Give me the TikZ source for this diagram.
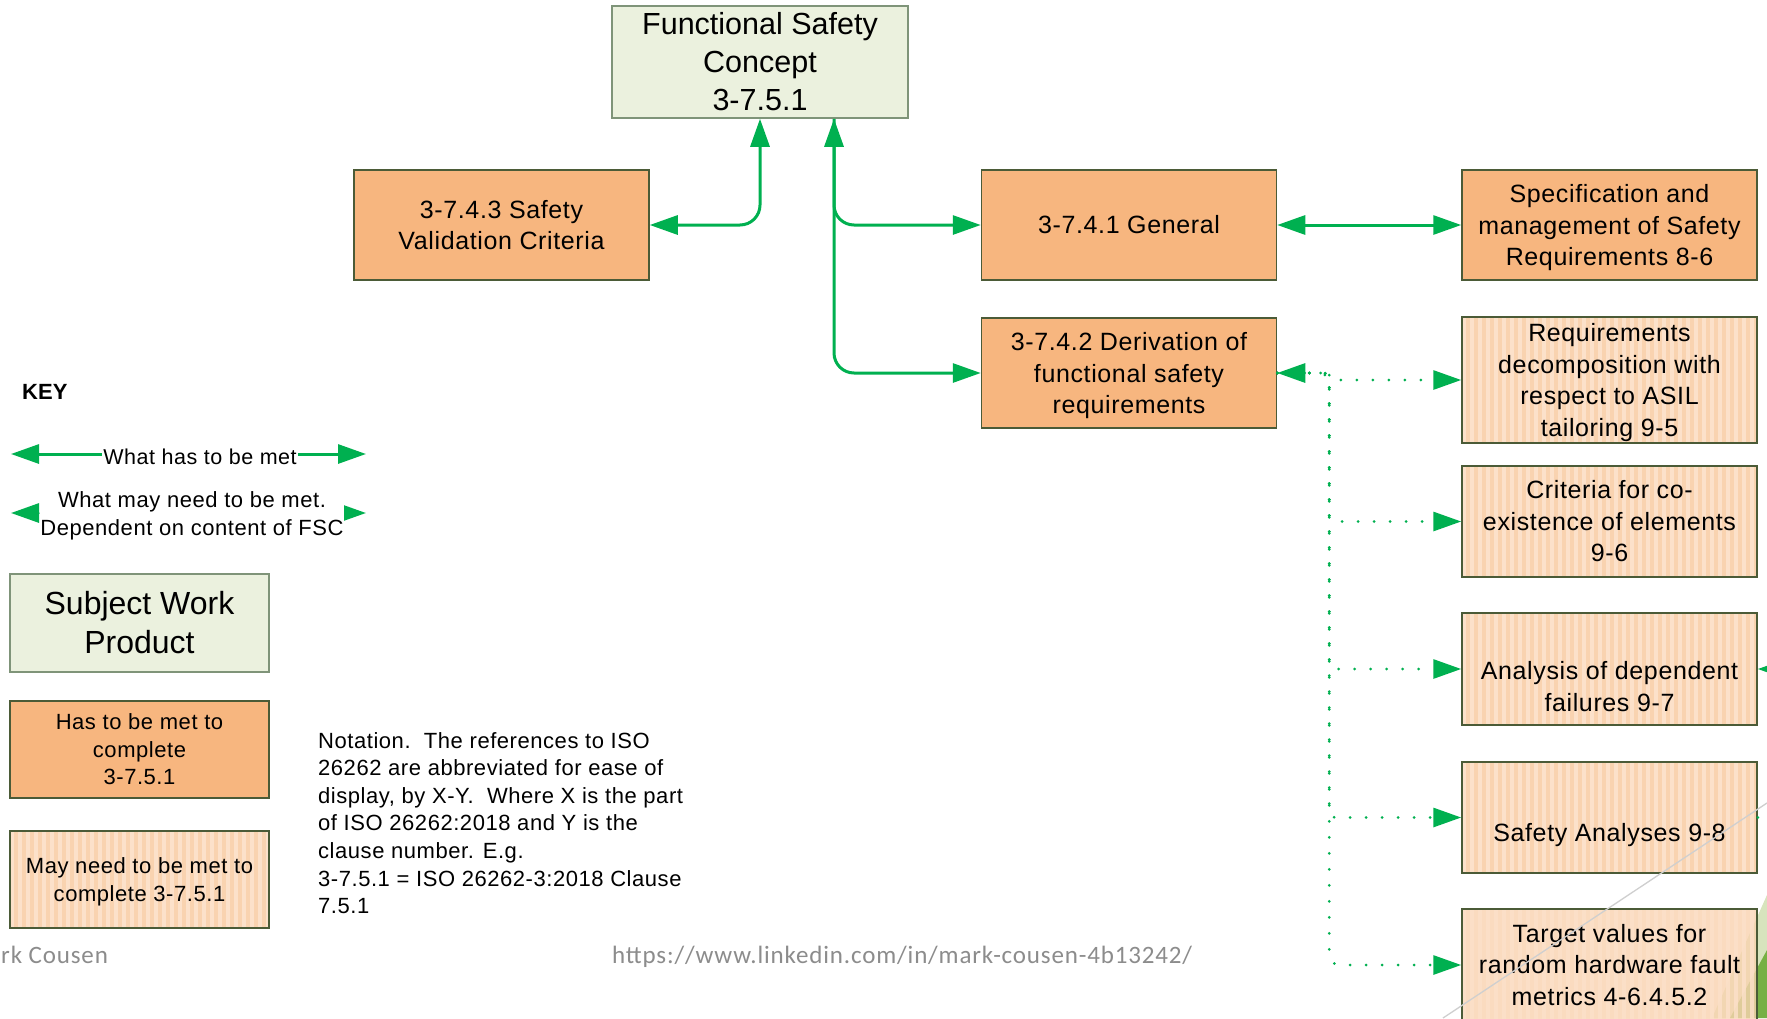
\documentclass[tikz,border=0pt]{standalone}
\usepackage{fontspec}
\setmainfont{Liberation Sans}
\newfontfamily\boxfont[LetterSpace=2.5]{Liberation Sans}
\newfontfamily\footfont[LetterSpace=3.4]{Carlito}
\usetikzlibrary{arrows.meta}

\definecolor{wpfill}{HTML}{EBF1DE}
\definecolor{wpedge}{HTML}{7F9479}
\definecolor{orangefill}{HTML}{F7B67F}
\definecolor{boxedge}{HTML}{4B5B37}
\definecolor{peachA}{HTML}{F9D3B0}
\definecolor{peachB}{HTML}{FCE1CA}
\definecolor{linkgreen}{HTML}{00B050}
\definecolor{footgray}{HTML}{8C8C8C}
\definecolor{facetlight}{HTML}{D7E4BD}
\definecolor{facetdark}{HTML}{77B045}
\definecolor{facetline}{HTML}{CFCFCF}

\tikzset{
  gtip/.tip={Triangle[length=28pt,width=19pt]},
  wpbox/.style={draw=wpedge, fill=wpfill, line width=1.5pt, inner sep=0pt, align=center},
  reqbox/.style={draw=boxedge, fill=orangefill, line width=1.5pt, inner sep=0pt,
    align=center, minimum width=295pt, minimum height=110pt,
    font=\boxfont\fontsize{25}{31.5}\selectfont},
  optbox/.style={reqbox, fill=peachA, path picture={
      \foreach \s in {0,8,...,296}
        \fill[peachB] ([xshift=\s pt]path picture bounding box.south west) rectangle ++(4pt,130pt);}},
  musts/.style={draw=linkgreen, line width=3pt},
  mays/.style={draw=linkgreen, line width=3pt, line cap=round, dash pattern=on 0pt off 16pt},
}

\begin{document}
\begin{tikzpicture}[x=1pt,y=-1pt]
\useasboundingbox (0,0) rectangle (1767,1018);
\clip (0,0) rectangle (1767,1018);
\fill[white] (0,0) rectangle (1767,1018);

% slide theme facets, bottom right
\fill[facetlight] (1767,895) -- (1767,1018) -- (1712,1018) -- cycle;
\fill[facetdark] (1767,950) -- (1767,1018) -- (1730,1018) -- cycle;

% work product
\node[wpbox, minimum width=296pt, minimum height=112pt,
      font=\fontsize{30.5}{38}\selectfont] (fsc) at (760,62)
  {Functional Safety\\Concept\\3-7.5.1};

% inputs that have to be met
\node[reqbox] (svc) at (501.5,225) {3-7.4.3 Safety\\Validation Criteria};
\node[reqbox] (gen) at (1129,225) {3-7.4.1 General};
\node[reqbox] (der) at (1129,373) {3-7.4.2 Derivation of\\functional safety\\\smash{requirements}};
\node[reqbox] (spec) at (1609.5,225) {Specification and\\management of Safety\\\smash{Requirements 8-6}};

% inputs that may need to be met
\node[optbox, minimum height=126pt] (dec) at (1609.5,380)
  {Requirements\\decomposition with\\respect to ASIL\\\smash{tailoring 9-5}};
\node[optbox, minimum height=111pt] (coex) at (1609.5,521.5)
  {Criteria for co-\\existence of elements\\9-6};
\node[optbox, minimum height=112pt] (dfa) at (1609.5,669)
  {\strut\\Analysis of dependent\\failures 9-7};
\node[optbox, minimum height=111pt] (sa) at (1609.5,817.5)
  {\strut\\Safety Analyses 9-8};
\node[optbox, minimum height=112pt, fill opacity=0.8, text opacity=1] (tv) at (1609.5,965)
  {Target values for\\random hardware fault\\metrics 4-6.4.5.2};

% solid links
\coordinate (fscR) at ([xshift=74pt]fsc.south);
\draw[musts, gtip-gtip, rounded corners=20pt] (svc.east) -| (fsc.south);
\draw[musts, gtip-gtip, rounded corners=20pt] (fscR) |- (gen.west);
\draw[musts, -gtip, rounded corners=20pt] (fscR) |- (der.west);
\draw[musts, gtip-gtip] (gen.east) -- (spec.west);

% dotted links
\draw[mays, gtip-gtip, rounded corners=6pt] (der.east) -- ++(52,0) |- (dec.west);
\draw[mays, -gtip, rounded corners=6pt] (der.east) -- ++(52,0) |- (coex.west);
\draw[mays, -gtip, rounded corners=6pt] (der.east) -- ++(52,0) |- (dfa.west);
\draw[mays, -gtip, rounded corners=6pt] (der.east) -- ++(52,0) |- (sa.west);
\draw[mays, -gtip, rounded corners=10pt] (der.east) -- ++(52,0) |- (tv.west);

% links leaving to the right
\coordinate (offA) at (1800,669);
\coordinate (offB) at (1800,817.5);
\draw[mays, -gtip] (offA) -- (dfa.east);
\draw[mays] (sa.east) -- (offB);

% key
\node[font=\bfseries\fontsize{22}{26}\selectfont, anchor=base west, inner sep=0pt] (key) at (22,399) {KEY};

\coordinate (m1) at (11,454);
\coordinate (m2) at (366,454);
\draw[musts, gtip-gtip] (m1) -- (m2);
\node[fill=white, inner xsep=1pt, inner ysep=0pt, anchor=base,
      font=\boxfont\fontsize{21.5}{25}\selectfont] (mlbl) at (200,464) {What has to be met};

\coordinate (p1) at (11,513);
\coordinate (p2) at (366,513);
\draw[mays, gtip-gtip] (p1) -- (p2);
\node[fill=white, inner sep=0pt, align=center,
      font=\boxfont\fontsize{22}{28}\selectfont] (plbl) at (192,515.5)
  {What may need to be met.\\Dependent on content of FSC};

\node[wpbox, minimum width=259pt, minimum height=98pt,
      font=\fontsize{32}{39}\selectfont] (swp) at (139.5,623) {Subject Work\\Product};
\node[reqbox, minimum width=259pt, minimum height=97pt,
      font=\boxfont\fontsize{22}{27.5}\selectfont] (has) at (139.5,749.5)
  {Has to be met to\\complete\\3-7.5.1};
\node[optbox, minimum width=259pt, minimum height=97pt,
      font=\boxfont\fontsize{22}{27.5}\selectfont] (may) at (139.5,879.5)
  {May need to be met to\\\smash{complete 3-7.5.1}};

% notation
\node[anchor=north west, align=left, inner sep=0pt,
      font=\boxfont\fontsize{22}{27.6}\selectfont] (note) at (318,732)
  {Notation.\ \ The references to ISO\\26262 are abbreviated for ease of\\display, by X-Y.\ \ Where X is the part\\of ISO 26262:2018 and Y is the\\clause number. E.g.\\3-7.5.1 = ISO 26262-3:2018 Clause\\7.5.1};

% footer
\node[anchor=base west, inner sep=0pt, text=footgray,
      font=\footfont\fontsize{25}{30}\selectfont] (author) at (1,963) {rk Cousen};
\node[anchor=base west, inner sep=0pt, text=footgray,
      font=\footfont\fontsize{25}{30}\selectfont] (url) at (612,963)
  {https://www.linkedin.com/in/mark-cousen-4b13242/};

% theme line
\draw[facetline, line width=1.3pt] (1443,1018) -- (1767,803);
\end{tikzpicture}
\end{document}
